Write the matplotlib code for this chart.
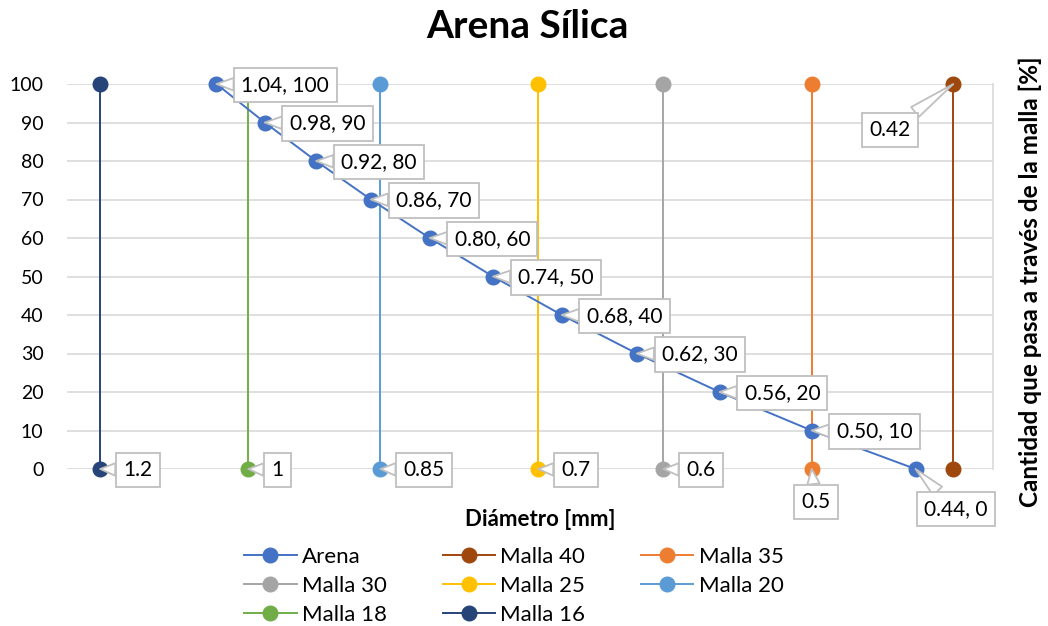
import matplotlib
matplotlib.use("Agg")
import matplotlib.pyplot as plt

plt.rcParams['font.family'] = ['Lato', 'DejaVu Sans']

# Arena curve (diametro mm vs % que pasa)
arena_x = [1.04, 0.98, 0.92, 0.86, 0.80, 0.74, 0.68, 0.62, 0.56, 0.50, 0.44]
arena_y = [100, 90, 80, 70, 60, 50, 40, 30, 20, 10, 0]

# Mallas: vertical lines at the sieve opening
mallas = ['Malla 40', 'Malla 35', 'Malla 30', 'Malla 25', 'Malla 20', 'Malla 18', 'Malla 16']
malla_x = [0.42, 0.5, 0.6, 0.7, 0.85, 1.0, 1.2]
malla_y = [0, 100]

colors = {
    'Arena': '#4472C4',
    'Malla 40': '#9E480E',
    'Malla 35': '#ED7D31',
    'Malla 30': '#A5A5A5',
    'Malla 25': '#FFC000',
    'Malla 20': '#5B9BD5',
    'Malla 18': '#70AD47',
    'Malla 16': '#264478',
}

fig = plt.figure(figsize=(10.48, 6.26), dpi=100)
ax = fig.add_axes([67 / 1048, 1 - 469 / 626, 926 / 1048, 385 / 626])

box = dict(boxstyle='square,pad=0.35', fc='white', ec='#BFBFBF', lw=1.3)
arrow = dict(arrowstyle='wedge,tail_width=0.6', fc='white', ec='#BFBFBF', lw=1.3,
             shrinkA=0, shrinkB=0)


def callout(txt, x, y, dx, dy, ha):
    ax.annotate(txt, xy=(x, y), xytext=(dx, dy), textcoords='offset pixels',
                ha=ha, va='center', fontsize=15, bbox=box, arrowprops=arrow,
                zorder=5, annotation_clip=False)


handles = {}
ms = 10.5
lw = 1.4
h, = ax.plot(arena_x, arena_y, color=colors['Arena'], lw=lw, marker='o', ms=ms,
             clip_on=False, zorder=4, label='Arena')
handles['Arena'] = h

for name, x in zip(mallas, malla_x):
    h, = ax.plot([x, x], malla_y, color=colors[name], lw=lw, marker='o', ms=ms,
                 clip_on=False, zorder=3, label=name)
    handles[name] = h

# data labels
for x, y in zip(arena_x[:-1], arena_y[:-1]):
    callout(f"{x:.2f}, {y:.0f}", x, y, 25, -1, 'left')
callout(f"{arena_x[-1]:.2f}, {arena_y[-1]:.0f}", arena_x[-1], arena_y[-1], 40, -40, 'center')

for name, x in zip(mallas, malla_x):
    if name == 'Malla 40':
        callout(f"{x:g}", x, 100, -63, -46, 'center')
    elif name == 'Malla 35':
        callout(f"{x:g}", x, 0, 4, -33, 'center')
    else:
        callout(f"{x:g}", x, 0, 23, -1, 'left')

ax.set_xscale('log')
ax.set_xlim(1.25, 0.40)
ax.set_ylim(0, 100)
ax.set_yticks(range(0, 101, 10))
ax.tick_params(axis='x', which='both', bottom=False, labelbottom=False)
ax.tick_params(axis='y', length=0, labelsize=14, pad=17)
ax.grid(axis='y', color='#D9D9D9', lw=1.2)
ax.set_axisbelow(True)
for s in ['top', 'left', 'bottom']:
    ax.spines[s].set_visible(False)
ax.spines['right'].set_color('#D9D9D9')
ax.spines['right'].set_linewidth(1.2)

fig.text(527 / 1048, 1 - 27 / 626, 'Arena Sílica', ha='center', va='center',
         fontsize=28, fontweight='bold')
fig.text(540 / 1048, 1 - 519 / 626, 'Diámetro [mm]', ha='center', va='center',
         fontsize=16, fontweight='bold')
fig.text(1030 / 1048, 0.55, 'Cantidad que pasa a través de la malla [%]', ha='center',
         va='center', rotation=90, fontsize=17.5, fontweight='bold')

order = ['Arena', 'Malla 30', 'Malla 18', 'Malla 40', 'Malla 25', 'Malla 16', 'Malla 35', 'Malla 20']
fig.legend([handles[k] for k in order], order, loc='center', ncol=3,
           bbox_to_anchor=(514 / 1048, 1 - 586 / 626), frameon=False, fontsize=16,
           handlelength=2.35, handletextpad=0.25, columnspacing=2.5, labelspacing=0.4,
           borderpad=0)

fig.savefig('out.png', dpi=100)
